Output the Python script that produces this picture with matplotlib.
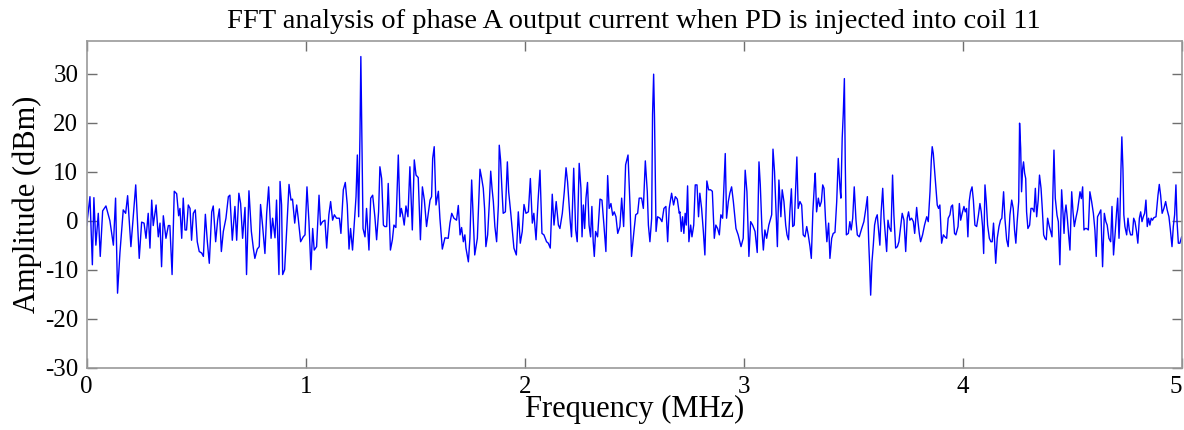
import matplotlib
matplotlib.use("Agg")
import matplotlib.pyplot as plt

# Frequency (MHz) and amplitude (dBm)
freq_mhz = [
    0.000, 0.015, 0.026, 0.033, 0.042, 0.053, 0.062, 0.073, 0.088, 0.106,
    0.122, 0.132, 0.141, 0.152, 0.167, 0.178, 0.187, 0.202, 0.224, 0.240,
    0.251, 0.262, 0.271, 0.281, 0.289, 0.297, 0.304, 0.317, 0.327, 0.335,
    0.342, 0.350, 0.362, 0.373, 0.380, 0.390, 0.400, 0.411, 0.420,
    0.426, 0.434, 0.441, 0.449, 0.456, 0.464, 0.472, 0.479, 0.487, 0.496,
    0.505, 0.514, 0.525, 0.533, 0.542, 0.551, 0.560, 0.571, 0.578, 0.589,
    0.598, 0.606, 0.615, 0.624, 0.636, 0.647, 0.654, 0.665, 0.677, 0.685,
    0.695, 0.703, 0.712, 0.723, 0.730, 0.741, 0.752, 0.761, 0.768, 0.779,
    0.788, 0.794, 0.803, 0.814, 0.822, 0.831, 0.842, 0.849, 0.860, 0.867,
    0.878,
    0.883, 0.890, 0.895, 0.904, 0.913, 0.924, 0.933, 0.940, 0.950, 0.959,
    0.966, 0.977, 0.989, 0.997, 1.006, 1.015, 1.024, 1.032, 1.039, 1.050,
    1.061, 1.068, 1.077, 1.088, 1.096, 1.106, 1.114, 1.123, 1.131, 1.141,
    1.154, 1.161, 1.172, 1.181, 1.190, 1.198, 1.205, 1.214, 1.221, 1.230,
    1.236, 1.242, 1.248, 1.252, 1.257, 1.262, 1.271, 1.278, 1.289, 1.297,
    1.306, 1.316, 1.324, 1.333,
    1.339, 1.347, 1.355, 1.361, 1.370, 1.377, 1.387, 1.396, 1.403, 1.412,
    1.423, 1.431, 1.437, 1.443, 1.450, 1.458, 1.467, 1.476, 1.487, 1.496,
    1.504, 1.514, 1.524, 1.533, 1.542, 1.552, 1.568, 1.575, 1.580, 1.587,
    1.595, 1.606, 1.613, 1.624, 1.636, 1.651, 1.659, 1.667, 1.677, 1.689,
    1.697, 1.705, 1.712, 1.720, 1.727, 1.732, 1.743, 1.750, 1.758, 1.765,
    1.772, 1.784, 1.796,
    1.804, 1.811, 1.817, 1.823, 1.831, 1.839, 1.845, 1.851, 1.857, 1.864,
    1.872, 1.880, 1.884, 1.890, 1.896, 1.902, 1.912, 1.921, 1.927, 1.936,
    1.944, 1.951, 1.962, 1.971, 1.980, 1.989, 1.997, 2.006, 2.017, 2.026,
    2.035, 2.042, 2.052, 2.061, 2.070, 2.079, 2.088, 2.100, 2.108, 2.117,
    2.126, 2.134, 2.144, 2.154, 2.161, 2.172, 2.181, 2.189, 2.196, 2.207,
    2.214, 2.224, 2.233, 2.240, 2.249,
    2.257, 2.262, 2.268, 2.274, 2.280, 2.287, 2.294, 2.301, 2.307, 2.313,
    2.318, 2.324, 2.333, 2.344, 2.353, 2.362, 2.371, 2.379, 2.386, 2.394,
    2.402, 2.409, 2.417, 2.425, 2.435, 2.443, 2.452, 2.461, 2.472, 2.481,
    2.488, 2.499, 2.507, 2.516, 2.523, 2.534, 2.542, 2.551, 2.560, 2.565,
    2.572, 2.580, 2.584, 2.589, 2.593, 2.600, 2.607, 2.618, 2.627, 2.636,
    2.645, 2.653, 2.660, 2.671, 2.680, 2.688, 2.697, 2.706,
    2.709, 2.715, 2.721, 2.727, 2.733, 2.738, 2.744, 2.750, 2.758, 2.764,
    2.772, 2.779, 2.787, 2.794, 2.800, 2.808, 2.816, 2.823, 2.832, 2.840,
    2.849, 2.857, 2.866, 2.873, 2.881, 2.889, 2.896, 2.904, 2.912, 2.916,
    2.922, 2.930, 2.937, 2.945, 2.953, 2.965, 2.975, 2.988, 2.998, 3.007,
    3.015, 3.024, 3.032, 3.041, 3.052, 3.062, 3.070, 3.076, 3.084, 3.090,
    3.097, 3.105, 3.115, 3.128, 3.134, 3.141, 3.149, 3.154, 3.161,
    3.170, 3.176, 3.184, 3.192, 3.198, 3.205, 3.211, 3.218, 3.224, 3.231,
    3.239, 3.243, 3.249, 3.257, 3.265, 3.272, 3.280, 3.288, 3.295, 3.303,
    3.309, 3.316, 3.323, 3.327, 3.333, 3.341, 3.348, 3.355, 3.361, 3.367,
    3.374, 3.380, 3.388, 3.394, 3.402, 3.409, 3.417, 3.425, 3.432, 3.440,
    3.444, 3.450, 3.455, 3.460, 3.464, 3.469, 3.478, 3.485, 3.491, 3.498,
    3.505, 3.513, 3.519, 3.528, 3.539, 3.549, 3.558, 3.565, 3.571, 3.575,
    3.580, 3.586, 3.592, 3.598, 3.604, 3.610,
    3.622, 3.628, 3.635, 3.641, 3.647, 3.653, 3.659, 3.665, 3.673, 3.680,
    3.686, 3.694, 3.702, 3.709, 3.717, 3.724, 3.732, 3.740, 3.747, 3.753,
    3.759, 3.767, 3.775, 3.781, 3.790, 3.796, 3.802, 3.808, 3.817, 3.826,
    3.836, 3.843, 3.851, 3.857, 3.861, 3.866, 3.870, 3.878, 3.884, 3.890,
    3.896, 3.904, 3.912, 3.919, 3.927, 3.934, 3.942, 3.948, 3.954, 3.963,
    3.969, 3.979, 3.985, 3.991, 3.998, 4.006, 4.012, 4.018, 4.024, 4.030,
    4.036, 4.043, 4.049, 4.056, 4.064, 4.072, 4.079,
    4.085, 4.091, 4.096, 4.102, 4.108, 4.114, 4.122, 4.129, 4.135, 4.141,
    4.146, 4.151, 4.158, 4.166, 4.173, 4.179, 4.187, 4.193, 4.201, 4.208,
    4.216, 4.224, 4.231, 4.237, 4.243, 4.249, 4.256, 4.260, 4.265, 4.269,
    4.274, 4.278, 4.283, 4.288, 4.292, 4.298, 4.306, 4.312, 4.319, 4.326,
    4.332, 4.338, 4.345, 4.351, 4.358, 4.364, 4.370, 4.376, 4.382, 4.388,
    4.396, 4.402, 4.408, 4.412, 4.417, 4.423, 4.431, 4.437, 4.444, 4.452,
    4.458, 4.463, 4.467, 4.472, 4.478, 4.484, 4.490, 4.498, 4.504, 4.510,
    4.517, 4.525,
    4.536, 4.542, 4.548, 4.554, 4.560, 4.566, 4.574, 4.581, 4.589, 4.597,
    4.604, 4.610, 4.616, 4.624, 4.631, 4.639, 4.647, 4.654, 4.660, 4.668,
    4.676, 4.682, 4.689, 4.697, 4.703, 4.708, 4.714, 4.718, 4.723, 4.727,
    4.732, 4.736, 4.741, 4.749, 4.755, 4.761, 4.767, 4.775, 4.781, 4.787,
    4.794, 4.800, 4.807, 4.813, 4.819, 4.825, 4.831, 4.837, 4.843, 4.849,
    4.855, 4.861, 4.867, 4.873, 4.883, 4.892, 4.898, 4.904, 4.911, 4.919,
    4.927, 4.934, 4.942, 4.948, 4.956, 4.962, 4.968, 4.974, 4.979, 4.985,
    4.992, 5.000,
]

amplitude_dbm = [
    -1.0, 4.9, -9.0, 4.7, -5.0, 1.5, -7.3, 2.0, 3.0, 0.0,
    -5.0, 4.6, -14.8, -6.5, 2.2, 1.5, 5.1, -5.3, 7.3, -7.7,
    -0.3, -0.5, -3.6, 1.5, -5.6, 4.2, -1.0, 3.2, -3.3, -0.5,
    -9.4, 1.0, -3.6, -1.0, -1.0, -11.0, 6.0, 5.5, 1.0,
    2.5, -3.6, 4.6, -1.9, -1.9, 3.2, 2.5, -4.0, 1.5, 2.2,
    -4.3, -6.3, -6.6, -7.3, 1.3, -4.3, -8.7, 1.8, 3.0, -4.3,
    0.1, 2.4, -6.3, -2.2, 0.5, 4.9, 5.2, -4.0, 2.9, -4.0,
    5.6, 3.5, -3.6, 2.7, -11.0, 6.1, -2.2, -5.6, -7.7, -5.8,
    -5.3, 3.3, -0.9, -6.7, 1.5, 6.9, -3.6, 0.5, -3.5, 4.2,
    -11.0,
    8.0, 3.2, -11.0, -10.0, -2.2, 7.4, 4.2, 4.4, -0.5, 3.2,
    0.5, -4.3, -3.3, -2.9, 6.9, -0.2, -10.0, -1.6, -6.0, -5.3,
    5.2, -0.9, -0.2, 0.1, -5.6, 1.2, 3.9, 0.1, 1.2, 0.5,
    0.5, -2.6, 6.3, 7.8, 3.2, -5.8, -1.6, -6.0, -1.2, 4.9,
    13.4, 0.8, 17.5, 33.5, 16.0, -1.6, -3.3, 2.5, -6.0, 4.6,
    5.2, 0.8, -3.9, 1.8,
    11.0, 8.6, -0.9, -1.2, -1.2, 7.6, -6.0, -3.9, -0.9, -1.4,
    13.4, 0.8, 2.5, 1.2, -0.9, 3.0, 0.8, 11.0, -1.9, 12.4,
    9.3, 8.8, -3.9, 6.9, 4.2, -1.2, 4.2, 4.9, 12.7, 15.1,
    3.2, 6.0, 0.5, -5.8, -3.5, -3.6, -0.5, 1.5, 0.5, 0.1,
    3.1, -2.9, -1.4, -4.3, -2.9, -5.6, -8.4, -3.6, 8.3, 0.5,
    -7.0, -3.6, 10.5,
    8.6, 6.6, 2.5, -5.3, -2.9, 3.9, 10.1, 6.6, 3.9, -1.2,
    -4.3, 3.2, 15.4, 12.4, 6.6, 1.5, 1.8, 12.0, 5.9, 1.8,
    -2.2, -5.6, -7.0, 1.8, -4.6, -2.2, 3.3, 1.5, 1.8, 8.6,
    -0.5, 1.5, -3.9, 3.9, 10.3, -2.6, -2.9, -4.3, -4.6, -5.6,
    5.4, -0.9, 3.9, -0.9, -1.6, 1.5, 5.9, 10.8, 7.9, 0.5,
    -3.3, 10.7, -1.9, -4.3, 11.7,
    6.6, -3.3, 3.2, -1.6, 4.6, 7.8, -0.9, -3.3, 2.9, -4.3,
    -7.3, -2.2, -3.3, 4.4, 4.2, -0.9, -6.3, 9.2, 2.5, 3.5,
    1.1, 1.8, 0.8, -2.6, -1.2, 4.6, -1.2, 11.4, 13.4, 3.2,
    -7.3, -2.2, 1.2, 1.5, 4.6, 4.6, 2.5, 12.2, 5.9, -0.9,
    -4.3, 0.5, 21.6, 29.9, 20.9, -2.2, 0.8, 0.5, -0.2, 2.5,
    2.9, -4.3, 2.5, 5.6, 3.2, 4.9, 4.4, 1.5,
    1.8, -2.2, 0.8, -2.6, 1.5, -0.9, 7.1, -4.3, -0.9, -3.3,
    -0.9, 7.3, 7.3, 0.8, 5.6, 2.5, -2.2, -7.0, 8.1, 6.3,
    6.3, 6.0, -3.6, -0.9, -1.6, -2.9, 1.2, 0.5, 9.3, 13.7,
    0.5, 3.9, 5.6, 6.9, 3.9, -1.6, -2.9, -5.3, -3.6, 10.3,
    5.9, -7.3, -0.2, -0.9, -2.2, -6.5, 12.0, 7.3, -2.2, -6.0,
    -1.9, -3.6, -0.9, 1.2, 14.6, 10.0, 0.5, -5.3, 8.3,
    0.8, 6.3, 3.9, -0.9, -2.9, -3.9, 1.8, 6.5, -1.2, -0.9,
    8.6, 13.0, 2.5, 3.9, 3.2, -2.9, -3.3, -1.2, -2.9, -5.3,
    -7.7, 1.8, 7.3, 9.7, 1.8, 4.6, 2.9, 3.9, 7.3, 6.6,
    0.1, -4.3, -0.5, -7.7, -3.6, -2.6, -2.4, 3.9, 12.7, 6.6,
    4.6, 16.8, 21.9, 29.0, 11.8, -2.9, -2.6, -0.2, -1.9, 0.5,
    6.9, 0.1, -2.9, -3.3, -1.6, -0.2, 2.5, 4.9, -4.3, -8.7,
    -15.2, -8.4, -5.0, -0.9, 0.5, 1.2,
    -5.0, 1.8, 6.6, 0.5, -2.9, -6.3, 0.1, -1.4, -2.2, 9.3,
    1.2, -5.6, -5.3, -4.3, -1.2, 1.5, 0.1, -6.3, 0.5, 1.8,
    0.1, 0.5, -0.2, -2.6, 2.7, -0.2, -2.6, -4.3, -2.9, -0.9,
    0.8, -0.2, 5.9, 12.4, 15.1, 13.7, 11.4, 6.6, 3.2, 2.5,
    3.2, -4.6, -2.9, -3.3, -3.6, 0.5, 1.2, 2.9, 3.2, -2.6,
    -2.9, -1.2, 3.5, 0.1, 1.5, 2.9, 1.8, 2.5, -3.3, 3.9,
    5.9, 6.9, 4.2, -0.9, -1.2, 1.1, 3.5,
    1.8, -1.2, -6.7, 7.3, 3.9, -0.9, -3.6, -4.3, -4.3, -0.5,
    -4.3, -8.7, -3.6, -1.2, 0.1, 0.5, 5.9, 0.5, -3.9, -5.3,
    1.2, 4.2, 2.5, -1.9, -4.6, -0.2, 3.9, 19.9, 14.8, 5.9,
    10.6, 12.0, 9.7, 8.6, 1.8, -1.6, -0.9, 2.5, 2.5, 1.8,
    6.6, 0.8, 4.2, 9.3, 6.6, 2.2, -2.9, -3.6, -3.9, 0.5,
    -1.2, -2.2, -3.3, 5.3, 14.4, 4.6, 1.1, -0.2, -9.0, 6.3,
    1.8, -2.6, 1.5, 3.2, 0.5, -2.9, -6.0, 5.9, 1.8, -1.2,
    0.5, 2.2,
    5.9, 4.5, 6.9, -1.9, -1.6, -1.6, -1.9, 5.9, 3.9, 1.5,
    -1.9, -7.3, 0.8, 1.5, 2.2, -9.4, 1.5, -0.2, -0.9, -3.6,
    -4.3, 2.9, -7.0, -2.2, 1.8, 4.6, -3.6, 0.5, 10.6, 17.1,
    10.6, 1.2, -1.2, -2.9, 0.5, -1.9, -2.9, -2.9, 0.5, -0.2,
    -2.2, -4.6, 0.5, 1.8, -0.2, 0.8, 1.5, 4.2, -1.2, 0.5,
    -0.9, 0.5, 0.1, 0.6, 0.8, 5.2, 7.4, 5.2, 1.5, 2.5,
    3.9, 2.2, 0.8, -1.6, -5.3, -1.2, 1.2, 7.3, -0.2, -4.6,
    -4.6, -3.3,
]

x_ticks = [0, 1, 2, 3, 4, 5]
y_ticks = [-30, -20, -10, 0, 10, 20, 30]
title_text = "FFT analysis of phase A output current when PD is injected into coil 11"
x_label = "Frequency (MHz)"
y_label = "Amplitude (dBm)"

plt.rcParams["font.family"] = ["Liberation Serif", "DejaVu Serif"]

fig = plt.figure(figsize=(11.84, 4.30), dpi=100)
ax = fig.add_axes([0.0732, 0.145, 0.9248, 0.760])
ax.plot(freq_mhz, amplitude_dbm, color="#0000ff", linewidth=1.0)

ax.set_xlim(0, 5)
ax.set_ylim(-30, 36.7)
ax.set_xticks(x_ticks)
ax.set_yticks(y_ticks)
ax.set_xticklabels([str(t) for t in x_ticks])
ax.set_yticklabels([str(t) for t in y_ticks])
ax.tick_params(direction="in", length=7, width=1.0, color="#6f6f6f",
               top=True, right=True, labelsize=18, pad=6)
for s in ax.spines.values():
    s.set_color("#9a9a9a")
    s.set_linewidth(1.2)
# keep the last x tick label inside the canvas
ax.get_xticklabels()[-1].set_horizontalalignment("right")

ax.set_title(title_text, fontsize=20.5, pad=9)
ax.set_xlabel(x_label, fontsize=22, labelpad=-2)
ax.set_ylabel(y_label, fontsize=22, labelpad=2)

fig.savefig("out.png", dpi=100)
